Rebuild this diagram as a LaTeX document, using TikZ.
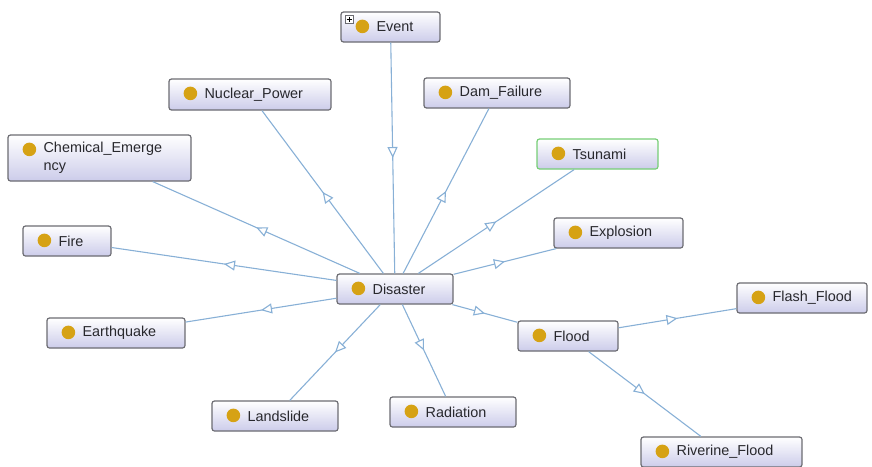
\documentclass[tikz,border=0pt]{standalone}
\usepackage{fontspec}
\setmainfont{Liberation Sans}
\usetikzlibrary{arrows.meta,decorations.markings,fit}

\definecolor{owlgold}{RGB}{214,162,20}
\definecolor{owlline}{RGB}{136,176,214}
\definecolor{owlborder}{RGB}{108,108,114}
\definecolor{owlgreen}{RGB}{118,206,118}
\definecolor{owlbottom}{RGB}{204,204,234}
\definecolor{owltext}{RGB}{40,40,45}

\tikzset{
	owlclass/.style={rectangle, rounded corners=2.5pt, draw=owlborder, line width=1.2pt,
		top color=white, bottom color=owlbottom, inner sep=0pt},
	isa/.style={draw=owlline, line width=1.1pt, postaction={decorate},
		decoration={markings, mark=at position 0.5 with
			{\arrow{Triangle[open, fill=white, length=11pt, width=10pt]}}}},
}

% \owlnode[border]{name}{left,top}{right,bottom}{label}
\newcommand{\owlnode}[5][owlborder]{%
	\node[owlclass, draw=#1, fit={(#3) (#4)}] (#2) {};
	\fill[owlgold] ([xshift=22pt, yshift=-15pt]#2.north west) circle (6.8pt);
	\node[anchor=west, align=left, inner sep=0pt, text=owltext,
		font=\fontsize{14.4}{18}\selectfont] at ([xshift=36pt]#2.west) {#5};
}

\begin{document}
\begin{tikzpicture}[x=1pt, y=-1pt]
				\useasboundingbox (0,0) rectangle (872,466);
				
				\owlnode{Event}{341,12}{440,42}{Event}
				\draw[owlborder, fill=white, line width=0.6pt] (345,15) rectangle (353,23);
				\draw[black, line width=0.6pt] (346.5,19) -- (351.5,19) (349,16.5) -- (349,21.5);
				
				\owlnode{NuclearPower}{169,79}{331,110}{Nuclear\_Power}
				\owlnode{DamFailure}{424,78}{570,108}{Dam\_Failure}
				\owlnode{ChemicalEmergency}{8,135}{191,181}{Chemical\_Emerge\\ncy}
				\owlnode[owlgreen]{Tsunami}{537,139}{658,169}{Tsunami}
				\owlnode{Fire}{23,226}{111,256}{Fire}
				\owlnode{Explosion}{554,218}{683,248}{Explosion}
				\owlnode{Disaster}{337,274}{453,304}{Disaster}
				\owlnode{Earthquake}{47,318}{185,348}{Earthquake}
				\owlnode{Flood}{518,321}{618,351}{Flood}
				\owlnode{FlashFlood}{737,283}{867,313}{Flash\_Flood}
				\owlnode{Landslide}{212,401}{338,431}{Landslide}
				\owlnode{Radiation}{390,397}{516,427}{Radiation}
				\owlnode{RiverineFlood}{641,437}{802,467}{Riverine\_Flood}
				
				% subclass links
				\draw[isa] (Event) -- (Disaster);
				\draw[isa] (Disaster) -- (NuclearPower);
				\draw[isa] (Disaster) -- (DamFailure);
				\draw[isa] (Disaster) -- (ChemicalEmergency);
				\draw[isa] (Disaster) -- (Tsunami);
				\draw[isa] (Disaster) -- (Fire);
				\draw[isa] (Disaster) -- (Explosion);
				\draw[isa] (Disaster) -- (Earthquake);
				\draw[isa] (Disaster) -- (Flood);
				\draw[isa] (Disaster) -- (Landslide);
				\draw[isa] (Disaster) -- (Radiation);
				\draw[isa] (Flood) -- (FlashFlood);
				\draw[isa] (Flood) -- (RiverineFlood);
\end{tikzpicture}
\end{document}
